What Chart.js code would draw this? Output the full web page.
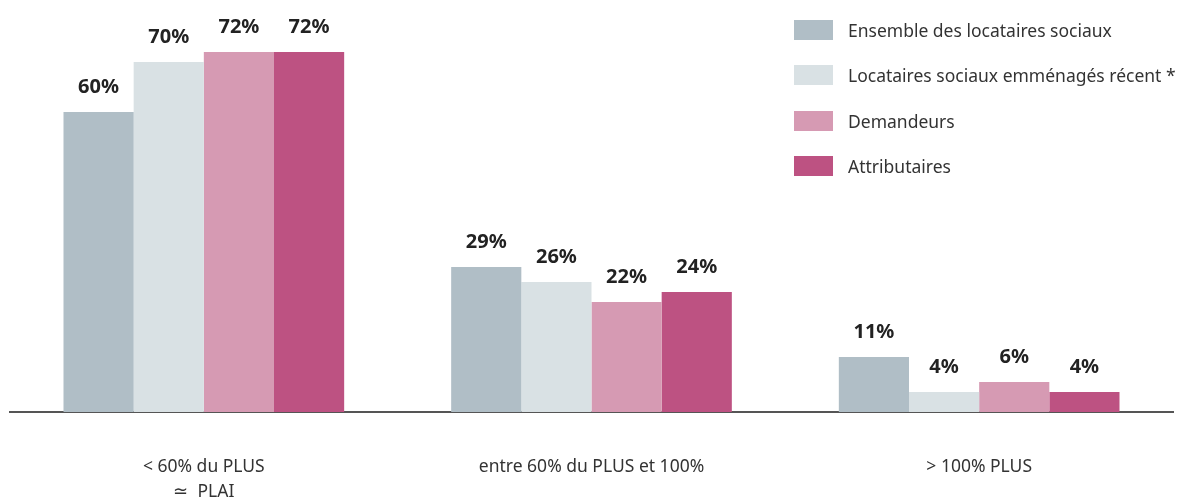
<!DOCTYPE html>
<html>
<head>
<meta charset="utf-8">
<script src="https://cdn.jsdelivr.net/npm/chart.js@4/dist/chart.umd.min.js"></script>
<style>
  body { margin: 0; background: #fff; }
  #wrap { position: relative; width: 1179px; height: 499px; }
  #legend { position: absolute; left: 794px; top: 19px; font-family: "Noto Sans", sans-serif; font-size: 17.5px; color: #333; }
  #legend div { display: flex; align-items: center; height: 45.5px; margin-top: -12px; margin-bottom: 12px; white-space: nowrap; }
  #legend span.box { display: inline-block; width: 39px; height: 20px; margin-right: 15px; }
</style>
</head>
<body>
<div id="wrap">
  <canvas id="chart" width="1179" height="499"></canvas>
  <div id="legend"></div>
</div>
<script>
const categories = [
  ["< 60% du PLUS", "\u2243  PLAI"],
  "entre 60% du PLUS et 100%",
  "> 100% PLUS"
];
const seriesNames = [
  "Ensemble des locataires sociaux",
  "Locataires sociaux emménagés récent *",
  "Demandeurs",
  "Attributaires"
];
const ensemble = [60, 29, 11];
const recents = [70, 26, 4];
const demandeurs = [72, 22, 6];
const attributaires = [72, 24, 4];
const colors = ["#b0bec6", "#d9e1e4", "#d69ab3", "#bd5282"];

const valueLabels = {
  id: "valueLabels",
  afterDatasetsDraw(chart) {
    const ctx = chart.ctx;
    ctx.save();
    ctx.font = "bold 20px 'Noto Sans', sans-serif";
    ctx.fillStyle = "#222";
    ctx.textAlign = "center";
    ctx.textBaseline = "middle";
    chart.data.datasets.forEach(function (ds, i) {
      chart.getDatasetMeta(i).data.forEach(function (bar, j) {
        ctx.fillText(ds.data[j] + "%", bar.x, bar.y - 25);
      });
    });
    ctx.restore();
  }
};

function init() {
  let values = [ensemble, recents, demandeurs, attributaires];
  let datasets = values.map(function (v, i) {
    return {
      label: seriesNames[i],
      data: v,
      backgroundColor: colors[i],
      borderWidth: 0,
      categoryPercentage: 0.724,
      barPercentage: 1.0
    };
  });

  new Chart(document.getElementById("chart"), {
    type: "bar",
    data: { labels: categories, datasets: datasets },
    options: {
      responsive: false,
      animation: false,
      layout: { padding: { left: 10, right: 6, top: 12, bottom: 0 } },
      plugins: { legend: { display: false }, tooltip: { enabled: false } },
      scales: {
        y: { display: false, min: 0, max: 80 },
        x: {
          grid: { display: false },
          border: { display: true, color: "#555", width: 2 },
          ticks: {
            padding: 34,
            color: "#333",
            font: { family: "'Noto Sans', sans-serif", size: 17.5, lineHeight: 1.45 },
            maxRotation: 0
          },
          afterFit: function (scale) { scale.height = 87; }
        }
      }
    },
    plugins: [valueLabels]
  });

  let legend = document.getElementById("legend");
  seriesNames.forEach(function (name, i) {
    let row = document.createElement("div");
    row.innerHTML = '<span class="box" style="background:' + colors[i] + '"></span>' + name;
    legend.appendChild(row);
  });
}

window.onload = init;
</script>
</body>
</html>
